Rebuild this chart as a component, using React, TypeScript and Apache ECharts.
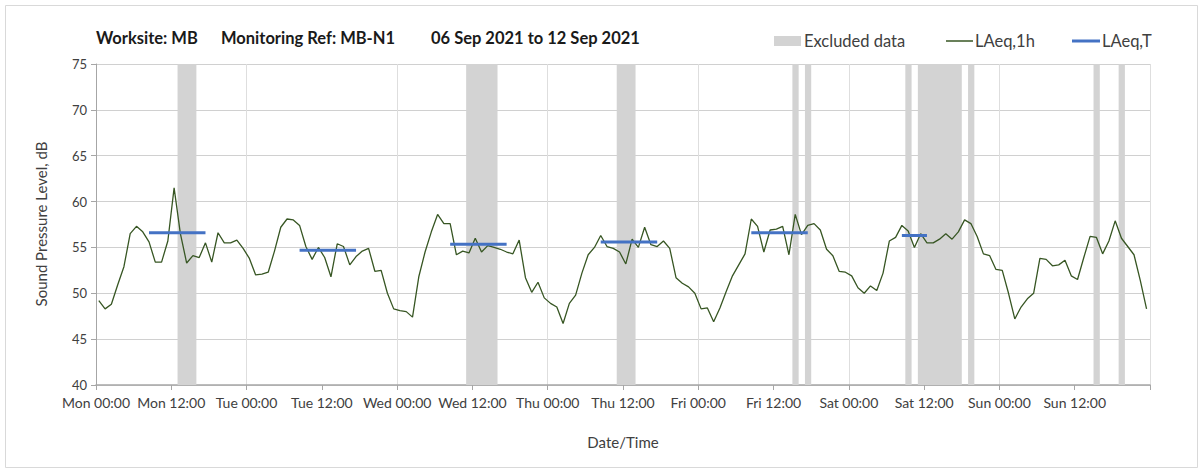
import React, { useEffect, useRef } from 'react';
import * as echarts from 'echarts';

// ---- Data ----
const TICK_LABELS = [
  'Mon 00:00', 'Mon 12:00', 'Tue 00:00', 'Tue 12:00', 'Wed 00:00', 'Wed 12:00', 'Thu 00:00',
  'Thu 12:00', 'Fri 00:00', 'Fri 12:00', 'Sat 00:00', 'Sat 12:00', 'Sun 00:00', 'Sun 12:00',
];
const HOURS_PER_TICK = 12;
const TOTAL_HOURS = 168;
const POINT_OFFSET_H = 0.45;

// hourly LAeq,1h values (dB), Mon 00:00 -> Sun 23:00
const LAEQ_1H = [
  49.2, 48.3, 48.8, 50.9, 52.9, 56.5, 57.3, 56.7, 55.6, 53.4,
  53.4, 55.7, 61.5, 56.5, 53.3, 54.1, 53.9, 55.5, 53.4, 56.6,
  55.5, 55.5, 55.8, 54.9, 53.8, 52.0, 52.1, 52.3, 54.6, 57.2,
  58.1, 58.0, 57.4, 55.1, 53.7, 55.0, 53.9, 51.8, 55.4, 55.1,
  53.1, 54.0, 54.6, 54.9, 52.4, 52.5, 50.0, 48.3, 48.1, 48.0,
  47.4, 51.8, 54.5, 56.7, 58.6, 57.6, 57.6, 54.2, 54.6, 54.4,
  56.0, 54.5, 55.2, 55.0, 54.8, 54.5, 54.3, 55.8, 51.7, 50.1,
  51.2, 49.5, 48.9, 48.5, 46.7, 48.9, 49.8, 52.2, 54.2, 55.0,
  56.3, 55.1, 54.9, 54.5, 53.2, 55.9, 55.0, 57.2, 55.3, 55.1,
  55.7, 54.9, 51.7, 51.1, 50.7, 50.0, 48.3, 48.4, 46.9, 48.4,
  50.2, 51.9, 53.1, 54.3, 58.1, 57.3, 54.5, 56.9, 57.0, 57.3,
  54.2, 58.6, 56.4, 57.4, 57.6, 56.9, 54.8, 54.1, 52.4, 52.3,
  51.9, 50.6, 50.0, 50.8, 50.3, 52.2, 55.7, 56.1, 57.4, 56.8,
  55.0, 56.5, 55.5, 55.5, 55.9, 56.5, 55.9, 56.7, 58.0, 57.6,
  56.2, 54.3, 54.1, 52.6, 52.5, 50.0, 47.2, 48.5, 49.4, 50.0,
  53.8, 53.7, 53.0, 53.1, 53.6, 51.9, 51.5, 53.9, 56.2, 56.1,
  54.3, 55.7, 57.9, 56.0, 55.1, 54.2, 51.4, 48.3,
];

// LAeq,T daytime periods (hour index start/end) and levels
const LAEQ_T_START = [8, 32, 56, 80, 104, 128];
const LAEQ_T_END = [17, 41, 65, 89, 113, 132];
const LAEQ_T = [56.6, 54.7, 55.35, 55.6, 56.6, 56.3];

// Excluded data periods (hours from Mon 00:00)
const EXCLUDED_START = [13, 59, 83, 111, 113, 129, 131, 139, 159, 163];
const EXCLUDED_END = [16, 64, 86, 112, 114, 130, 138, 140, 160, 164];

const Y_MIN = 40;
const Y_MAX = 75;
const Y_STEP = 5;

const FONT = 'Lato, "Open Sans", sans-serif';
const GREEN = '#375623';
const BLUE = '#4472C4';
const BAND = '#d3d3d3';
const TEXT = '#404040';

export default function App() {
  const ref = useRef<HTMLDivElement>(null);

  useEffect(() => {
    if (!ref.current) return;
    const chart = echarts.init(ref.current, undefined, { renderer: 'svg' });

    const tSeries = LAEQ_T.map((v, k) => ({
      type: 'line',
      name: 'LAeq,T',
      xAxisIndex: 0,
      yAxisIndex: 0,
      symbol: 'none',
      silent: true,
      z: 4,
      lineStyle: { color: BLUE, width: 3 },
      data: [
        [LAEQ_T_START[k] + POINT_OFFSET_H, v],
        [LAEQ_T_END[k] + POINT_OFFSET_H, v],
      ],
    }));

    const titleStyle = (text: string) => ({
      text, fontSize: 16.5, fontWeight: 'bold', fontFamily: FONT, fill: '#1a1a1a',
      align: 'left', verticalAlign: 'middle',
    });
    const legendStyle = (text: string) => ({
      text, fontSize: 16.5, fontFamily: FONT, fill: TEXT, align: 'left', verticalAlign: 'middle',
    });

    const option: any = {
      animation: false,
      backgroundColor: '#ffffff',
      grid: { left: 96, right: 53, top: 64, bottom: 88 },
      xAxis: [
        {
          type: 'value',
          min: 0,
          max: TOTAL_HOURS,
          interval: HOURS_PER_TICK,
          axisLine: { show: true, onZero: false, lineStyle: { color: '#a6a6a6', width: 1.5 } },
          axisTick: { show: true, length: 5, lineStyle: { color: '#a6a6a6' } },
          axisLabel: {
            formatter: (v: number) => TICK_LABELS[Math.round(v / HOURS_PER_TICK)] ?? '',
            color: TEXT,
            fontSize: 14,
            fontFamily: FONT,
            margin: 10,
          },
          splitLine: { show: false },
        },
        {
          type: 'value',
          min: 0,
          max: TOTAL_HOURS,
          interval: HOURS_PER_TICK * 2,
          position: 'bottom',
          axisLine: { show: false },
          axisTick: { show: false },
          axisLabel: { show: false },
          splitLine: { show: true, lineStyle: { color: '#dedede', width: 1 } },
        },
      ],
      yAxis: {
        type: 'value',
        min: Y_MIN,
        max: Y_MAX,
        interval: Y_STEP,
        axisLine: { show: true, lineStyle: { color: '#a6a6a6', width: 1 } },
        axisTick: { show: true, length: 5, lineStyle: { color: '#a6a6a6' } },
        axisLabel: { color: TEXT, fontSize: 13, fontFamily: FONT, margin: 9 },
        splitLine: { show: true, lineStyle: { color: '#d0d0d0', width: 1 } },
      },
      series: [
        {
          type: 'line',
          name: 'Excluded data',
          xAxisIndex: 0,
          yAxisIndex: 0,
          data: [],
          z: 1,
          silent: true,
          markArea: {
            silent: true,
            itemStyle: { color: BAND, opacity: 1 },
            data: EXCLUDED_START.map((s, k) => [{ xAxis: s }, { xAxis: EXCLUDED_END[k] }]),
          },
        },
        {
          type: 'line',
          name: 'LAeq,1h',
          xAxisIndex: 0,
          yAxisIndex: 0,
          symbol: 'none',
          silent: true,
          z: 3,
          lineStyle: { color: GREEN, width: 1.3 },
          data: LAEQ_1H.map((v, i) => [i + POINT_OFFSET_H, v]),
        },
        ...tSeries,
      ],
      graphic: [
        {
          type: 'rect',
          silent: true,
          shape: { x: 5.5, y: 5.5, width: 1192, height: 462 },
          style: { fill: 'none', stroke: '#d9d9d9', lineWidth: 1 },
        },
        { type: 'text', x: 96, y: 38, style: titleStyle('Worksite: MB') },
        { type: 'text', x: 221, y: 38, style: titleStyle('Monitoring Ref: MB-N1') },
        { type: 'text', x: 431, y: 38, style: titleStyle('06 Sep 2021 to 12 Sep 2021') },
        {
          type: 'rect', silent: true,
          shape: { x: 774, y: 36, width: 27, height: 10 },
          style: { fill: BAND },
        },
        { type: 'text', x: 804, y: 41, style: legendStyle('Excluded data') },
        {
          type: 'line', silent: true,
          shape: { x1: 946, y1: 41, x2: 973, y2: 41 },
          style: { stroke: GREEN, lineWidth: 1.5 },
        },
        { type: 'text', x: 975, y: 41, style: legendStyle('LAeq,1h') },
        {
          type: 'line', silent: true,
          shape: { x1: 1072, y1: 41, x2: 1100, y2: 41 },
          style: { stroke: BLUE, lineWidth: 3 },
        },
        { type: 'text', x: 1102, y: 41, style: legendStyle('LAeq,T') },
        {
          type: 'text', x: 41, y: 224, rotation: Math.PI / 2,
          style: { text: 'Sound Pressure Level, dB', fontSize: 15, fontFamily: FONT, fill: TEXT, align: 'center', verticalAlign: 'middle' },
        },
        {
          type: 'text', x: 623, y: 442,
          style: { text: 'Date/Time', fontSize: 15, fontFamily: FONT, fill: TEXT, align: 'center', verticalAlign: 'middle' },
        },
      ],
    };

    chart.setOption(option);
    return () => chart.dispose();
  }, []);

  return (
    <div
      ref={ref}
      style={{ position: 'fixed', left: 0, top: 0, width: 1203, height: 473, background: '#ffffff' }}
    />
  );
}
